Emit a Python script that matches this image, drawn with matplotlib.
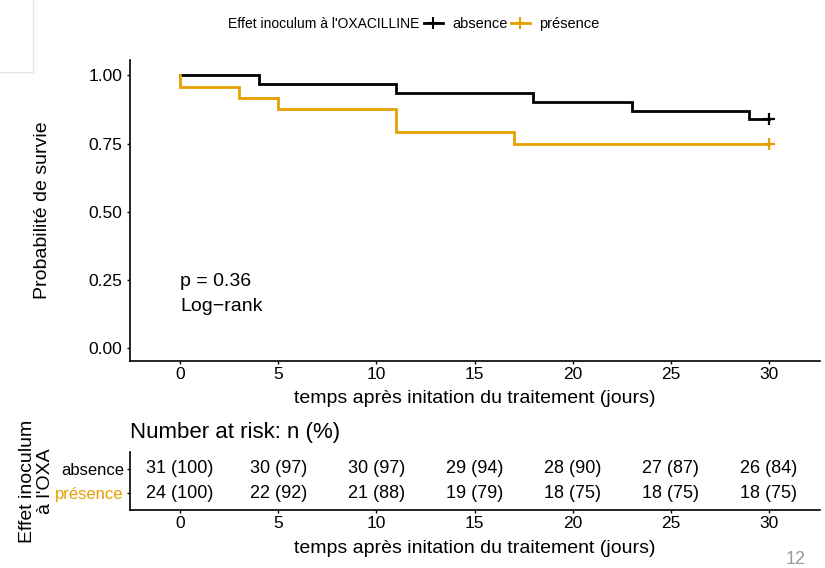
import matplotlib
matplotlib.use("Agg")
import matplotlib.pyplot as plt
from matplotlib.lines import Line2D
from matplotlib.patches import Rectangle

plt.rcParams['font.family'] = ['Liberation Sans', 'DejaVu Sans']

groups = ["absence", "présence"]
colors = ["#000000", "#E69F00"]
# step survival curves: times where survival changes, and survival values
abs_times = [0, 4, 11, 18, 23, 29, 30]
abs_surv = [1.0, 0.968, 0.935, 0.903, 0.871, 0.839, 0.839]
pre_times = [0, 0.0, 3, 5, 11, 17, 30]
pre_surv = [1.0, 0.958, 0.917, 0.875, 0.792, 0.75, 0.75]
censor_t = [30, 30]
censor_s = [0.839, 0.75]

risk_times = [0, 5, 10, 15, 20, 25, 30]
risk_abs = ["31 (100)", "30 (97)", "30 (97)", "29 (94)", "28 (90)", "27 (87)", "26 (84)"]
risk_pre = ["24 (100)", "22 (92)", "21 (88)", "19 (79)", "18 (75)", "18 (75)", "18 (75)"]

W, H = 825, 568
fig = plt.figure(figsize=(W / 100, H / 100), dpi=100)

def ax_rect(x0, y0, x1, y1):
    return [x0 / W, 1 - y1 / H, (x1 - x0) / W, (y1 - y0) / H]

ax = fig.add_axes(ax_rect(130, 60, 820, 361))
xlim = (-2.55, 32.6)
ax.set_xlim(*xlim)
ax.set_ylim(-0.046, 1.056)

for t, s, c in [(abs_times, abs_surv, colors[0]), (pre_times, pre_surv, colors[1])]:
    ax.step(t, s, where="post", color=c, lw=2.0, solid_joinstyle="miter")
for t, s, c in zip(censor_t, censor_s, colors):
    ax.plot([t], [s], marker="+", ms=9, mew=1.6, color=c, ls="none")

for sp in ["top", "right"]:
    ax.spines[sp].set_visible(False)
for sp in ["left", "bottom"]:
    ax.spines[sp].set_linewidth(1.2)
ax.set_xticks([0, 5, 10, 15, 20, 25, 30])
ax.set_yticks([0, 0.25, 0.5, 0.75, 1.0])
ax.set_yticklabels(["0.00", "0.25", "0.50", "0.75", "1.00"])
ax.tick_params(labelsize=12.5, length=2.5, width=1.0, colors="black")
ax.tick_params(axis="x", pad=1.5)
ax.tick_params(axis="y", pad=3)
ax.set_xlabel("temps après initation du traitement (jours)", fontsize=14, labelpad=6)
ax.set_ylabel("Probabilité de survie", fontsize=14, labelpad=27)
ax.text(0, 0.2, "p = 0.36\nLog\u2212rank", fontsize=14, va="center", ha="left", linespacing=1.6)

# legend at top
fig.text(228 / W, 1 - 24 / H, "Effet inoculum à l'OXACILLINE", fontsize=10,
         ha="left", va="center")
handles = [Line2D([0], [0], color=c, lw=2, marker="+", ms=8, mew=1.5) for c in colors]
fig.legend(handles, groups, ncol=2, loc="center left",
           bbox_to_anchor=(424 / W, 1 - 24 / H), frameon=False, borderpad=0,
           fontsize=10.5, handlelength=1.3, handletextpad=0.65, columnspacing=0.2,
           borderaxespad=0)

# risk table
rax = fig.add_axes(ax_rect(130, 452, 820, 510))
rax.set_xlim(*xlim)
rax.set_ylim(-0.2, 2.2)
for t, a, p in zip(risk_times, risk_abs, risk_pre):
    rax.text(t, 1.5, a, ha="center", va="center", fontsize=13)
    rax.text(t, 0.5, p, ha="center", va="center", fontsize=13)
rax.set_yticks([1.5, 0.5])
rax.set_yticklabels(groups)
for lab, c in zip(rax.get_yticklabels(), colors):
    lab.set_color(c)
rax.set_xticks(risk_times)
for sp in ["top", "right"]:
    rax.spines[sp].set_visible(False)
for sp in ["left", "bottom"]:
    rax.spines[sp].set_linewidth(1.2)
rax.tick_params(axis="x", labelsize=12.5, length=2.5, width=1.0, pad=1.5)
rax.tick_params(axis="y", labelsize=12, length=2.5, width=1.0, pad=2)
rax.set_xlabel("temps après initation du traitement (jours)", fontsize=14, labelpad=7)
rax.set_ylabel("Effet inoculum\nà l'OXA", fontsize=14, labelpad=1, linespacing=1.1)
rax.set_title("Number at risk: n (%)", fontsize=16, loc="left", pad=10)

# decorative elements
fig.add_artist(Rectangle((-0.01, 1 - 72 / H), 33 / W + 0.01, 72 / H + 0.01,
                         transform=fig.transFigure, fill=False, edgecolor="#e6e6e6", lw=1))
fig.text(796 / W, 1 - 559 / H, "12", color="#999999", fontsize=13, ha="center", va="center")

fig.savefig("out.png", dpi=100)
